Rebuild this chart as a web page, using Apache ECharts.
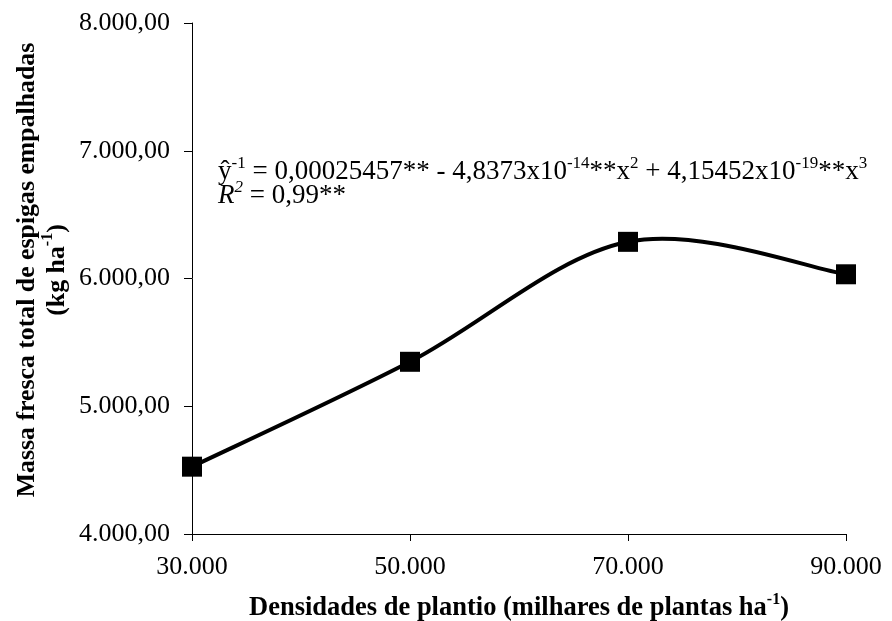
<!DOCTYPE html>
<html>
<head>
<meta charset="utf-8">
<script src="https://cdn.jsdelivr.net/npm/echarts@6/dist/echarts.min.js"></script>
<style>html,body{margin:0;padding:0;background:#fff;}#c{width:892px;height:621px;}</style>
</head>
<body>
<div id="c"></div>
<script>
const xValues = [30000, 50000, 70000, 90000];
const yValues = [4527, 5348, 6287, 6033];
const xTicks = [30000, 50000, 70000, 90000];
const yTicks = [4000, 5000, 6000, 7000, 8000];

const FF = '"Liberation Serif","Times New Roman",serif';
const chart = echarts.init(document.getElementById('c'));

function fmtThousands(v) {
  return String(Math.round(v)).replace(/\B(?=(\d{3})+(?!\d))/g, '.');
}

const supRich = {
  n: { fontFamily: FF, fontSize: 27, lineHeight: 30, verticalAlign: 'bottom', color: '#000' },
  s: { fontFamily: FF, fontSize: 17, lineHeight: 17, verticalAlign: 'top', color: '#000' },
  i: { fontFamily: FF, fontSize: 27, lineHeight: 30, verticalAlign: 'bottom', fontStyle: 'italic', color: '#000' },
  si: { fontFamily: FF, fontSize: 17, lineHeight: 17, verticalAlign: 'top', fontStyle: 'italic', color: '#000' }
};
const titleRich = {
  b: { fontFamily: FF, fontSize: 26.5, fontWeight: 'bold', lineHeight: 30, verticalAlign: 'bottom', color: '#000' },
  bs: { fontFamily: FF, fontSize: 16, fontWeight: 'bold', lineHeight: 20, verticalAlign: 'top', color: '#000' }
};
const yTitleRich = {
  b: { fontFamily: FF, fontSize: 25.8, fontWeight: 'bold', lineHeight: 30, verticalAlign: 'bottom', color: '#000' },
  bs: { fontFamily: FF, fontSize: 16, fontWeight: 'bold', lineHeight: 20, verticalAlign: 'top', color: '#000' }
};

// Excel-like smoothed segment (Catmull-Rom -> cubic Bezier), from data through the axis scales
function renderSegment(params, api) {
  const i = params.dataIndex;
  const n = xValues.length;
  if (i >= n - 1) return null;
  const P = k => {
    const j = Math.max(0, Math.min(n - 1, k));
    return api.coord([xValues[j], yValues[j]]);
  };
  const p0 = P(i - 1), p1 = P(i), p2 = P(i + 1), p3 = P(i + 2);
  const c1 = [p1[0] + (p2[0] - p0[0]) / 6, p1[1] + (p2[1] - p0[1]) / 6];
  const c2 = [p2[0] - (p3[0] - p1[0]) / 6, p2[1] - (p3[1] - p1[1]) / 6];
  return {
    type: 'bezierCurve',
    shape: { x1: p1[0], y1: p1[1], cpx1: c1[0], cpy1: c1[1], cpx2: c2[0], cpy2: c2[1], x2: p2[0], y2: p2[1] },
    style: { stroke: '#000', lineWidth: 4, fill: null, lineCap: 'round' },
    silent: true
  };
}

chart.setOption({
  animation: false,
  backgroundColor: '#fff',
  grid: { left: 192, right: 46, top: 23, bottom: 87, containLabel: false, outerBoundsMode: 'none' },
  xAxis: {
    type: 'value',
    min: xTicks[0], max: xTicks[xTicks.length - 1], interval: 20000,
    axisLine: { show: true, lineStyle: { color: '#000', width: 1 } },
    axisTick: { show: true, inside: false, length: 7, lineStyle: { color: '#000' } },
    splitLine: { show: false },
    axisLabel: { margin: 20, color: '#000', fontFamily: FF, fontSize: 26, formatter: v => fmtThousands(v) },
    name: '{b|Densidades de plantio (milhares de plantas ha}{bs|-1}{b|)}',
    nameLocation: 'middle', nameGap: 58,
    nameTextStyle: { rich: titleRich }
  },
  yAxis: {
    type: 'value',
    min: yTicks[0], max: yTicks[yTicks.length - 1], interval: 1000,
    axisLine: { show: true, lineStyle: { color: '#000', width: 1 } },
    axisTick: { show: true, inside: false, length: 8, lineStyle: { color: '#000' } },
    splitLine: { show: false },
    axisLabel: { margin: 22, color: '#000', fontFamily: FF, fontSize: 26, formatter: v => fmtThousands(v) + ',00' }
  },
  series: [{
    type: 'custom',
    renderItem: renderSegment,
    data: xValues.map((x, i) => [x, yValues[i]]),
    z: 2
  }, {
    type: 'scatter',
    data: xValues.map((x, i) => [x, yValues[i]]),
    symbol: 'rect', symbolSize: 20,
    itemStyle: { color: '#000', opacity: 1 },
    z: 3
  }],
  graphic: [{
    type: 'text', x: 40, y: 270, rotation: Math.PI / 2,
    style: {
      text: '{b|Massa fresca total de espigas empalhadas}\n{b|(kg ha}{bs|-1}{b|)}',
      rich: yTitleRich, align: 'center', verticalAlign: 'middle'
    }
  }, {
    type: 'text', left: 218, top: 155,
    style: {
      text: '{n|ŷ}{s|-1}{n| = 0,00025457** - 4,8373x10}{s|-14}{n|**x}{s|2}{n| + 4,15452x10}{s|-19}{n|**x}{s|3}',
      rich: supRich
    }
  }, {
    type: 'text', left: 218, top: 179,
    style: {
      text: '{i|R}{si|2}{n| = 0,99**}',
      rich: supRich
    }
  }]
});
</script>
</body>
</html>
